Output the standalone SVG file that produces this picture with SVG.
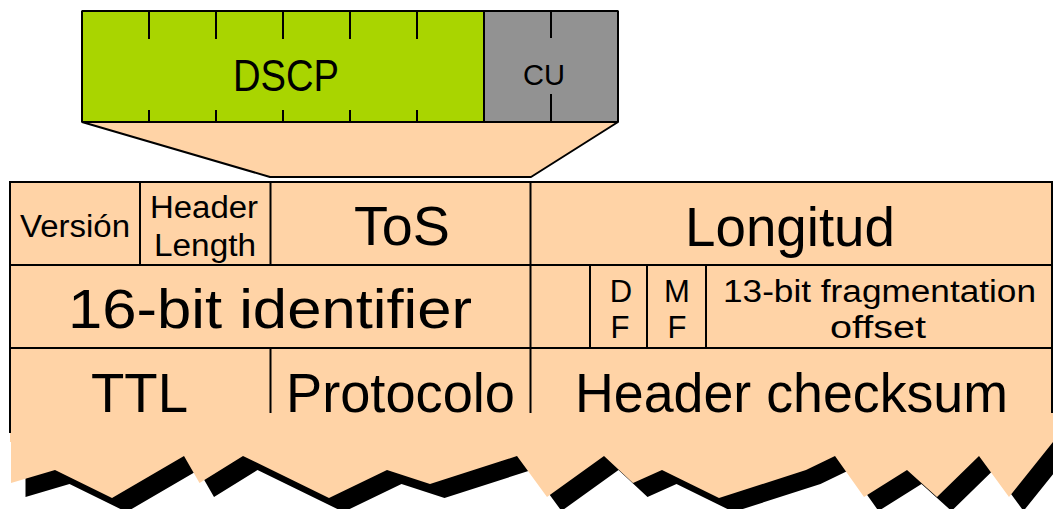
<svg xmlns="http://www.w3.org/2000/svg" width="1053" height="509" viewBox="0 0 1053 509">
<defs>
<style>
text{font-family:"Liberation Sans","Open Sans",sans-serif;fill:#000}
.s{font-size:31px}.m{font-size:44px}.l{font-size:55px}.c{font-size:30px}
.ln{stroke:#000;stroke-width:2;fill:none}
.bx{stroke:#000;stroke-width:2;stroke-linejoin:bevel}
.p{fill:#ffd3a6}
</style>
</defs>
<rect width="1053" height="509" fill="#fff"/>
<g id="zoom-wedge"><path class="p bx" d="M82,122 L270,177 L531,177 L618,122Z"/></g>
<g id="dscp">
<rect class="bx" x="82" y="11" width="402" height="111" fill="#a9d500"/>
<path class="ln" d="M149,11V39M216,11V39M283,11V39M350,11V39M417,11V39M149,110V122M216,110V122M283,110V122M350,110V122M417,110V122"/>
<text class="m" x="233" y="91" textLength="106" lengthAdjust="spacingAndGlyphs">DSCP</text>
</g>
<g id="cu">
<rect class="bx" x="484" y="11" width="134" height="111" fill="#929292"/>
<path class="ln" d="M551,11V38M551,94V122"/>
<text class="c" x="523" y="85" textLength="42" lengthAdjust="spacingAndGlyphs">CU</text>
</g>
<g id="table-background">
<rect class="p" x="10" y="182" width="1042" height="260"/>
</g>
<g id="torn-edge">
<polygon fill="#000" points="25.500,450 25.500,497 69.500,484 126.500,512 198.500,470 214,497 257.500,470 343.500,512 401.500,484 444.500,498 531.500,470 561.500,511 618.500,470 647.500,497 676.500,484 733.500,512 820.500,484 849.500,470 878.500,511 921.500,484 951.500,511 993.500,470 1023.500,511 1067.500,456 1067.500,430"/>
<polygon class="p" points="11,410 11,483 55,470 112,498 184,456 199.500,483 243,456 329,498 387,470 430,484 517,456 547,497 604,456 633,483 662,470 719,498 806,470 835,456 864,497 907,470 937,497 979,456 1009,497 1053,442 1053,410"/>
</g>
<g id="connectors">
<path class="ln" d="M10,182H1052M10,265H1052M10,348H1052"/>
<path class="ln" d="M10,181V433M1052,181V413M530.500,182V413M270.500,182V265M270.500,348V413M140,182V265M590,265V348M647,265V348M706,265V348"/>
</g>
<g id="version"><text class="s" x="20" y="237" textLength="110" lengthAdjust="spacingAndGlyphs">Versión</text></g>
<g id="header-length">
<text class="s" x="150" y="218" textLength="108" lengthAdjust="spacingAndGlyphs">Header</text>
<text class="s" x="154" y="256" textLength="102" lengthAdjust="spacingAndGlyphs">Length</text>
</g>
<g id="tos"><text class="l" x="354" y="245" textLength="96" lengthAdjust="spacingAndGlyphs">ToS</text></g>
<g id="longitud"><text class="l" x="685" y="246" textLength="210" lengthAdjust="spacingAndGlyphs">Longitud</text></g>
<g id="identifier"><text class="l" x="68" y="328" textLength="404" lengthAdjust="spacingAndGlyphs">16-bit identifier</text></g>
<g id="df">
<text class="s" x="621" y="302" text-anchor="middle">D</text>
<text class="s" x="620" y="338" text-anchor="middle">F</text>
</g>
<g id="mf">
<text class="s" x="677" y="302" text-anchor="middle">M</text>
<text class="s" x="677" y="338" text-anchor="middle">F</text>
</g>
<g id="fragmentation">
<text class="s" x="723" y="302" textLength="313" lengthAdjust="spacingAndGlyphs">13-bit fragmentation</text>
<text class="s" x="830" y="338" textLength="96" lengthAdjust="spacingAndGlyphs">offset</text>
</g>
<g id="ttl"><text class="l" x="91" y="412" textLength="97" lengthAdjust="spacingAndGlyphs">TTL</text></g>
<g id="protocolo"><text class="l" x="286" y="412" textLength="229" lengthAdjust="spacingAndGlyphs">Protocolo</text></g>
<g id="checksum"><text class="l" x="575" y="412" textLength="433" lengthAdjust="spacingAndGlyphs">Header checksum</text></g>
</svg>
